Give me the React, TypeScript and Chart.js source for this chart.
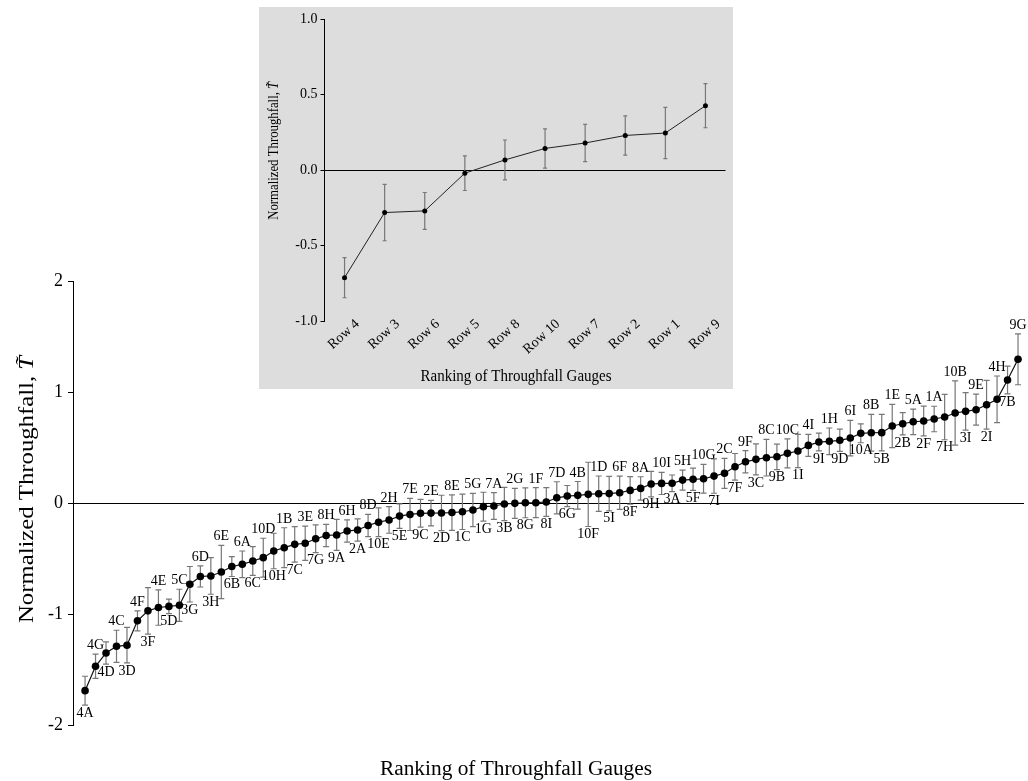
import React, { useEffect, useRef } from 'react';
import { Chart, registerables } from 'chart.js';

Chart.register(...registerables);

const FONT = "'Liberation Serif', 'Times New Roman', serif";

// ---- main chart data (ranked gauges) ----
const gaugeLabels = [
  '4A', '4G', '4D', '4C', '3D', '4F', '3F', '4E', '5D', '5C',
  '3G', '6D', '3H', '6E', '6B', '6A', '6C', '10D', '10H', '1B',
  '7C', '3E', '7G', '8H', '9A', '6H', '2A', '8D', '10E', '2H',
  '5E', '7E', '9C', '2E', '2D', '8E', '1C', '5G', '1G', '7A',
  '3B', '2G', '8G', '1F', '8I', '7D', '6G', '4B', '10F', '1D',
  '5I', '6F', '8F', '8A', '9H', '10I', '3A', '5H', '5F', '10G',
  '7I', '2C', '7F', '9F', '3C', '8C', '9B', '10C', '1I', '4I',
  '9I', '1H', '9D', '6I', '10A', '8B', '5B', '1E', '2B', '5A',
  '2F', '1A', '7H', '10B', '3I', '9E', '2I', '4H', '7B', '9G',
];

const gaugeValues = [
  -1.69, -1.47, -1.35, -1.29, -1.28, -1.06, -0.97, -0.94, -0.93, -0.92,
  -0.73, -0.66, -0.655, -0.62, -0.57, -0.55, -0.52, -0.49, -0.43, -0.40,
  -0.37, -0.36, -0.32, -0.29, -0.285, -0.25, -0.24, -0.20, -0.17, -0.15,
  -0.115, -0.10, -0.09, -0.088, -0.087, -0.083, -0.076, -0.06, -0.03, -0.024,
  -0.006, 0.0, 0.005, 0.006, 0.012, 0.05, 0.066, 0.072, 0.081, 0.087,
  0.088, 0.096, 0.117, 0.135, 0.174, 0.18, 0.181, 0.21, 0.217, 0.222,
  0.246, 0.271, 0.33, 0.375, 0.397, 0.412, 0.42, 0.451, 0.472, 0.523,
  0.553, 0.56, 0.569, 0.589, 0.632, 0.637, 0.638, 0.698, 0.718, 0.736,
  0.743, 0.761, 0.779, 0.815, 0.83, 0.845, 0.89, 0.939, 1.113, 1.30,
];

const gaugeErrors = [
  0.13, 0.11, 0.10, 0.145, 0.16, 0.09, 0.21, 0.16, 0.065, 0.145,
  0.16, 0.095, 0.165, 0.24, 0.09, 0.12, 0.13, 0.175, 0.16, 0.18,
  0.16, 0.155, 0.125, 0.10, 0.14, 0.10, 0.10, 0.10, 0.13, 0.12,
  0.11, 0.145, 0.125, 0.115, 0.16, 0.16, 0.16, 0.15, 0.13, 0.12,
  0.15, 0.135, 0.135, 0.135, 0.13, 0.145, 0.095, 0.125, 0.29, 0.16,
  0.155, 0.15, 0.125, 0.105, 0.115, 0.10, 0.075, 0.09, 0.10, 0.13,
  0.155, 0.135, 0.12, 0.10, 0.14, 0.165, 0.115, 0.13, 0.15, 0.10,
  0.08, 0.12, 0.10, 0.16, 0.085, 0.165, 0.165, 0.195, 0.10, 0.115,
  0.135, 0.115, 0.205, 0.29, 0.17, 0.14, 0.22, 0.21, 0.125, 0.23,
];

// 'b' = label below the error bar, 'a' = label above it
const labelSides = [
  'b', 'a', 'b', 'a', 'b', 'a', 'b', 'a', 'b', 'a',
  'b', 'a', 'b', 'a', 'b', 'a', 'b', 'a', 'b', 'a',
  'b', 'a', 'b', 'a', 'b', 'a', 'b', 'a', 'b', 'a',
  'b', 'a', 'b', 'a', 'b', 'a', 'b', 'a', 'b', 'a',
  'b', 'a', 'b', 'a', 'b', 'a', 'b', 'a', 'b', 'a',
  'b', 'a', 'b', 'a', 'b', 'a', 'b', 'a', 'b', 'a',
  'b', 'a', 'b', 'a', 'b', 'a', 'b', 'a', 'b', 'a',
  'b', 'a', 'b', 'a', 'b', 'a', 'b', 'a', 'b', 'a',
  'b', 'a', 'b', 'a', 'b', 'a', 'b', 'a', 'b', 'a',
];

// ---- inset chart data (rows) ----
const rowLabels = ['Row 4', 'Row 3', 'Row 6', 'Row 5', 'Row 8', 'Row 10', 'Row 7', 'Row 2', 'Row 1', 'Row 9'];
const rowValues = [-0.713, -0.281, -0.270, -0.02, 0.068, 0.144, 0.18, 0.23, 0.246, 0.427];
const rowErrors = [0.133, 0.187, 0.122, 0.115, 0.132, 0.13, 0.124, 0.13, 0.17, 0.146];

const xTitle = 'Ranking of Throughfall Gauges';
const yTitleParts = [
  { text: 'Normalized Throughfall, ', italic: false },
  { text: 'T\u0303', italic: true },
];

type Part = { text: string; italic: boolean };

function drawTitle(
  ctx: CanvasRenderingContext2D,
  parts: Part[],
  size: number,
  ax: number,
  ay: number,
  rotated: boolean,
  targetLen: number
) {
  ctx.save();
  const fontOf = (p: Part) => `${p.italic ? 'italic ' : ''}${size}px ${FONT}`;
  let total = 0;
  const widths = parts.map((p) => {
    ctx.font = fontOf(p);
    const w = ctx.measureText(p.text).width;
    total += w;
    return w;
  });
  ctx.translate(ax, ay);
  if (rotated) ctx.rotate(-Math.PI / 2);
  ctx.scale(targetLen / total, 1);
  ctx.fillStyle = '#000';
  ctx.textAlign = 'left';
  ctx.textBaseline = 'alphabetic';
  let x = -total / 2;
  parts.forEach((p, i) => {
    ctx.font = fontOf(p);
    ctx.fillText(p.text, x, 0);
    x += widths[i];
  });
  ctx.restore();
}

function drawErrorBars(chart: any, xs: number[], values: number[], errors: number[], cap: number, color: string) {
  const { ctx, scales } = chart;
  ctx.save();
  ctx.strokeStyle = color;
  ctx.lineWidth = 1.2;
  values.forEach((v, i) => {
    const x = xs[i];
    const yt = scales.y.getPixelForValue(v + errors[i]);
    const yb = scales.y.getPixelForValue(v - errors[i]);
    ctx.beginPath();
    ctx.moveTo(x, yt);
    ctx.lineTo(x, yb);
    ctx.moveTo(x - cap, yt);
    ctx.lineTo(x + cap, yt);
    ctx.moveTo(x - cap, yb);
    ctx.lineTo(x + cap, yb);
    ctx.stroke();
  });
  ctx.restore();
}

function drawZeroLine(chart: any) {
  const { ctx, chartArea, scales } = chart;
  const y = Math.round(scales.y.getPixelForValue(0)) + 0.5;
  ctx.save();
  ctx.strokeStyle = '#000';
  ctx.lineWidth = 1.2;
  ctx.beginPath();
  ctx.moveTo(chartArea.left, y);
  ctx.lineTo(chartArea.right, y);
  ctx.stroke();
  ctx.restore();
}

const mainPlugin = {
  id: 'mainDecor',
  beforeDatasetsDraw(chart: any) {
    drawZeroLine(chart);
    const xs = gaugeValues.map((_, i) => chart.scales.x.getPixelForValue(i + 1));
    drawErrorBars(chart, xs, gaugeValues, gaugeErrors, 3, '#777777');
  },
  afterDatasetsDraw(chart: any) {
    const { ctx, scales } = chart;
    ctx.save();
    ctx.fillStyle = '#000';
    ctx.font = `14px ${FONT}`;
    ctx.textAlign = 'center';
    gaugeLabels.forEach((lab, i) => {
      const x = scales.x.getPixelForValue(i + 1);
      const v = gaugeValues[i];
      if (labelSides[i] === 'a') {
        ctx.textBaseline = 'alphabetic';
        ctx.fillText(lab, x, scales.y.getPixelForValue(v + gaugeErrors[i]) - 5);
      } else {
        ctx.textBaseline = 'top';
        ctx.fillText(lab, x, scales.y.getPixelForValue(v - gaugeErrors[i]) + 1);
      }
    });
    ctx.restore();
  },
  afterDraw(chart: any) {
    const { ctx } = chart;
    drawTitle(ctx, [{ text: xTitle, italic: false }], 20, 516, 775, false, 272);
    drawTitle(ctx, yTitleParts, 20, 33, 489.5, true, 267);
  },
};

const insetPlugin = {
  id: 'insetDecor',
  beforeDatasetsDraw(chart: any) {
    drawZeroLine(chart);
    const xs = rowValues.map((_, i) => chart.scales.x.getPixelForValue(i));
    drawErrorBars(chart, xs, rowValues, rowErrors, 2, '#777777');
  },
  afterDraw(chart: any) {
    const { ctx, chartArea, scales } = chart;
    // rotated category labels
    ctx.save();
    ctx.fillStyle = '#000';
    ctx.font = `14px ${FONT}`;
    ctx.textAlign = 'right';
    ctx.textBaseline = 'middle';
    rowLabels.forEach((lab, i) => {
      const x = scales.x.getPixelForValue(i);
      ctx.save();
      ctx.translate(x + 13, chartArea.bottom + 1);
      ctx.rotate((-42 * Math.PI) / 180);
      ctx.fillText(lab, 0, 0);
      ctx.restore();
    });
    ctx.restore();
    drawTitle(ctx, [{ text: xTitle, italic: false }], 16, 257, 374, false, 191);
    drawTitle(ctx, yTitleParts, 15, 19.3, 143.8, true, 138);
  },
};

export default function App() {
  const mainRef = useRef<HTMLCanvasElement>(null);
  const insetRef = useRef<HTMLCanvasElement>(null);

  useEffect(() => {
    if (!mainRef.current || !insetRef.current) return;

    const main = new Chart(mainRef.current, {
      type: 'line',
      data: {
        datasets: [
          {
            data: gaugeValues.map((v, i) => ({ x: i + 1, y: v })),
            borderColor: '#111',
            borderWidth: 1.2,
            pointRadius: 3.8,
            pointBackgroundColor: '#000',
            pointBorderColor: '#000',
            pointBorderWidth: 0,
            tension: 0,
            clip: false as any,
          },
        ],
      },
      options: {
        animation: false,
        responsive: false,
        events: [],
        layout: { padding: { top: 281.7, bottom: 56, left: 0, right: 0 } },
        plugins: { legend: { display: false }, tooltip: { enabled: false } },
        scales: {
          x: { type: 'linear', min: -0.15, max: 90.57, display: false },
          y: {
            min: -2,
            max: 2,
            ticks: { stepSize: 1, color: '#000', padding: 5, font: { family: FONT, size: 18 } },
            grid: { display: true, drawOnChartArea: false, drawTicks: true, tickLength: 5, color: '#000' },
            border: { display: true, color: '#000', width: 1 },
            afterFit: (s: any) => {
              s.width = 73;
            },
          },
        },
      },
      plugins: [mainPlugin],
    });

    const inset = new Chart(insetRef.current, {
      type: 'line',
      data: {
        labels: rowLabels,
        datasets: [
          {
            data: rowValues,
            borderColor: '#222',
            borderWidth: 1,
            pointRadius: 2.5,
            pointBackgroundColor: '#000',
            pointBorderColor: '#000',
            pointBorderWidth: 0,
            tension: 0,
            clip: false as any,
          },
        ],
      },
      options: {
        animation: false,
        responsive: false,
        events: [],
        layout: { padding: { top: 12.3, right: 7.5, left: 0, bottom: 0 } },
        plugins: { legend: { display: false }, tooltip: { enabled: false } },
        scales: {
          x: {
            type: 'category',
            offset: true,
            grid: { display: false, drawTicks: false },
            border: { display: false },
            ticks: { display: false },
            afterFit: (s: any) => {
              s.height = 68;
            },
          },
          y: {
            min: -1,
            max: 1,
            ticks: {
              stepSize: 0.5,
              color: '#000',
              padding: 3,
              font: { family: FONT, size: 14 },
              callback: (v: any) => Number(v).toFixed(1),
            },
            grid: { display: true, drawOnChartArea: false, drawTicks: true, tickLength: 4, color: '#000' },
            border: { display: true, color: '#000', width: 1 },
            afterFit: (s: any) => {
              s.width = 65.5;
            },
          },
        },
      },
      plugins: [insetPlugin],
    });

    return () => {
      main.destroy();
      inset.destroy();
    };
  }, []);

  return (
    <div style={{ position: 'fixed', left: 0, top: 0, width: 1028, height: 781, background: '#fff' }}>
      <canvas ref={mainRef} width={1028} height={781} style={{ position: 'absolute', left: 0, top: 0 }} />
      <canvas
        ref={insetRef}
        width={474}
        height={382}
        style={{ position: 'absolute', left: 259, top: 7, background: '#dddddd' }}
      />
    </div>
  );
}
